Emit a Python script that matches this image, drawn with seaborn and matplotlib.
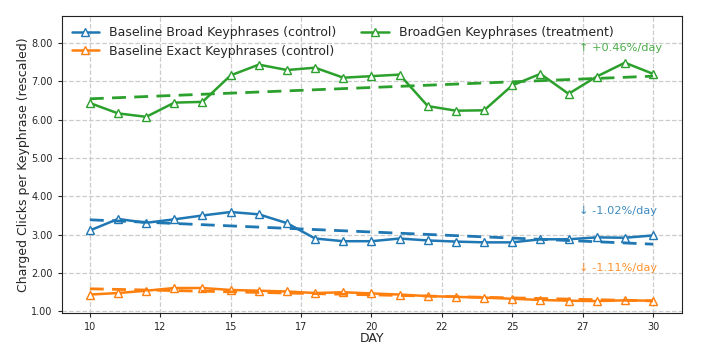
import numpy as np
import pandas as pd
import matplotlib
matplotlib.use("Agg")
import matplotlib.pyplot as plt
from matplotlib.ticker import FormatStrFormatter, FuncFormatter
import seaborn as sns

days = list(range(10, 31))
broad = [3.11, 3.41, 3.31, 3.40, 3.50, 3.59, 3.53, 3.30, 2.90, 2.83, 2.83,
         2.90, 2.85, 2.82, 2.80, 2.80, 2.88, 2.88, 2.93, 2.92, 2.98]
exact = [1.44, 1.48, 1.54, 1.61, 1.61, 1.56, 1.54, 1.52, 1.48, 1.50, 1.47,
         1.44, 1.40, 1.38, 1.36, 1.33, 1.30, 1.28, 1.27, 1.29, 1.28]
broadgen = [6.43, 6.16, 6.07, 6.44, 6.46, 7.15, 7.43, 7.29, 7.35, 7.09, 7.13,
            7.17, 6.35, 6.23, 6.24, 6.89, 7.19, 6.67, 7.12, 7.48, 7.19]
series_names = ["Baseline Broad Keyphrases (control)",
                "Baseline Exact Keyphrases (control)",
                "BroadGen Keyphrases (treatment)"]
trend_labels = ["\u2193 -1.02%/day", "\u2193 -1.11%/day", "\u2191 +0.46%/day"]
xticks = [10, 12.5, 15, 17.5, 20, 22.5, 25, 27.5, 30]
yticks = [1, 2, 3, 4, 5, 6, 7, 8]

colors = ["#1f77b4", "#ff7f0e", "#2ca02c"]
all_vals = [broad, exact, broadgen]

df = pd.concat([pd.DataFrame({"day": days, "value": v, "series": n})
                for v, n in zip(all_vals, series_names)], ignore_index=True)

sns.set_style("ticks")
plt.rcParams['font.family'] = ['DejaVu Sans']

fig = plt.figure(figsize=(7.01, 3.61), dpi=100)
ax = fig.add_axes([0.088, 0.133, 0.885, 0.823])

sns.lineplot(data=df, x="day", y="value", hue="series", palette=colors,
             hue_order=series_names, marker="^", markersize=5.5,
             markerfacecolor="white", markeredgewidth=1.0, linewidth=1.8,
             ax=ax, legend=True)
for line, c in zip(ax.lines[:3], colors):
    line.set_markeredgecolor(c)

# trend lines
trend_ypos = [3.63, 2.12, 7.87]
for v, c, lab, ty in zip(all_vals, colors, trend_labels, trend_ypos):
    k, b = np.polyfit(days, v, 1)
    xs = np.array([days[0], days[-1]])
    ax.plot(xs, k * xs + b, linestyle="--", color=c, linewidth=2.0,
            dashes=(5, 3))
    ax.text(27.37, ty, lab, color=c, alpha=0.85, fontsize=8.2,
            ha="left", va="center")

ax.set_xlim(9.0, 31.03)
ax.set_ylim(0.96, 8.7)
ax.set_xticks(xticks)
ax.xaxis.set_major_formatter(FuncFormatter(lambda x, p: f"{int(x)}"))
ax.set_yticks(yticks)
ax.yaxis.set_major_formatter(FormatStrFormatter("%.2f"))
ax.tick_params(labelsize=7, length=3)
ax.grid(True, linestyle="--", color="#cccccc", linewidth=0.9)
ax.set_axisbelow(True)
ax.set_xlabel("DAY", fontsize=9, labelpad=0)
ax.set_ylabel("Charged Clicks per Keyphrase (rescaled)", fontsize=9,
              labelpad=1)
for s in ax.spines.values():
    s.set_visible(True)
    s.set_color("#222222")

handles, labels = ax.get_legend_handles_labels()
for h, c in zip(handles, colors):
    h.set_markeredgecolor(c)
    h.set_markerfacecolor("white")
ax.legend(handles[:3], labels[:3], loc="upper left", ncol=2, frameon=False,
          fontsize=9, handlelength=2.2, columnspacing=2.0, handletextpad=0.8,
          borderaxespad=0.4, labelspacing=0.45)

fig.savefig("out.png", dpi=100)
